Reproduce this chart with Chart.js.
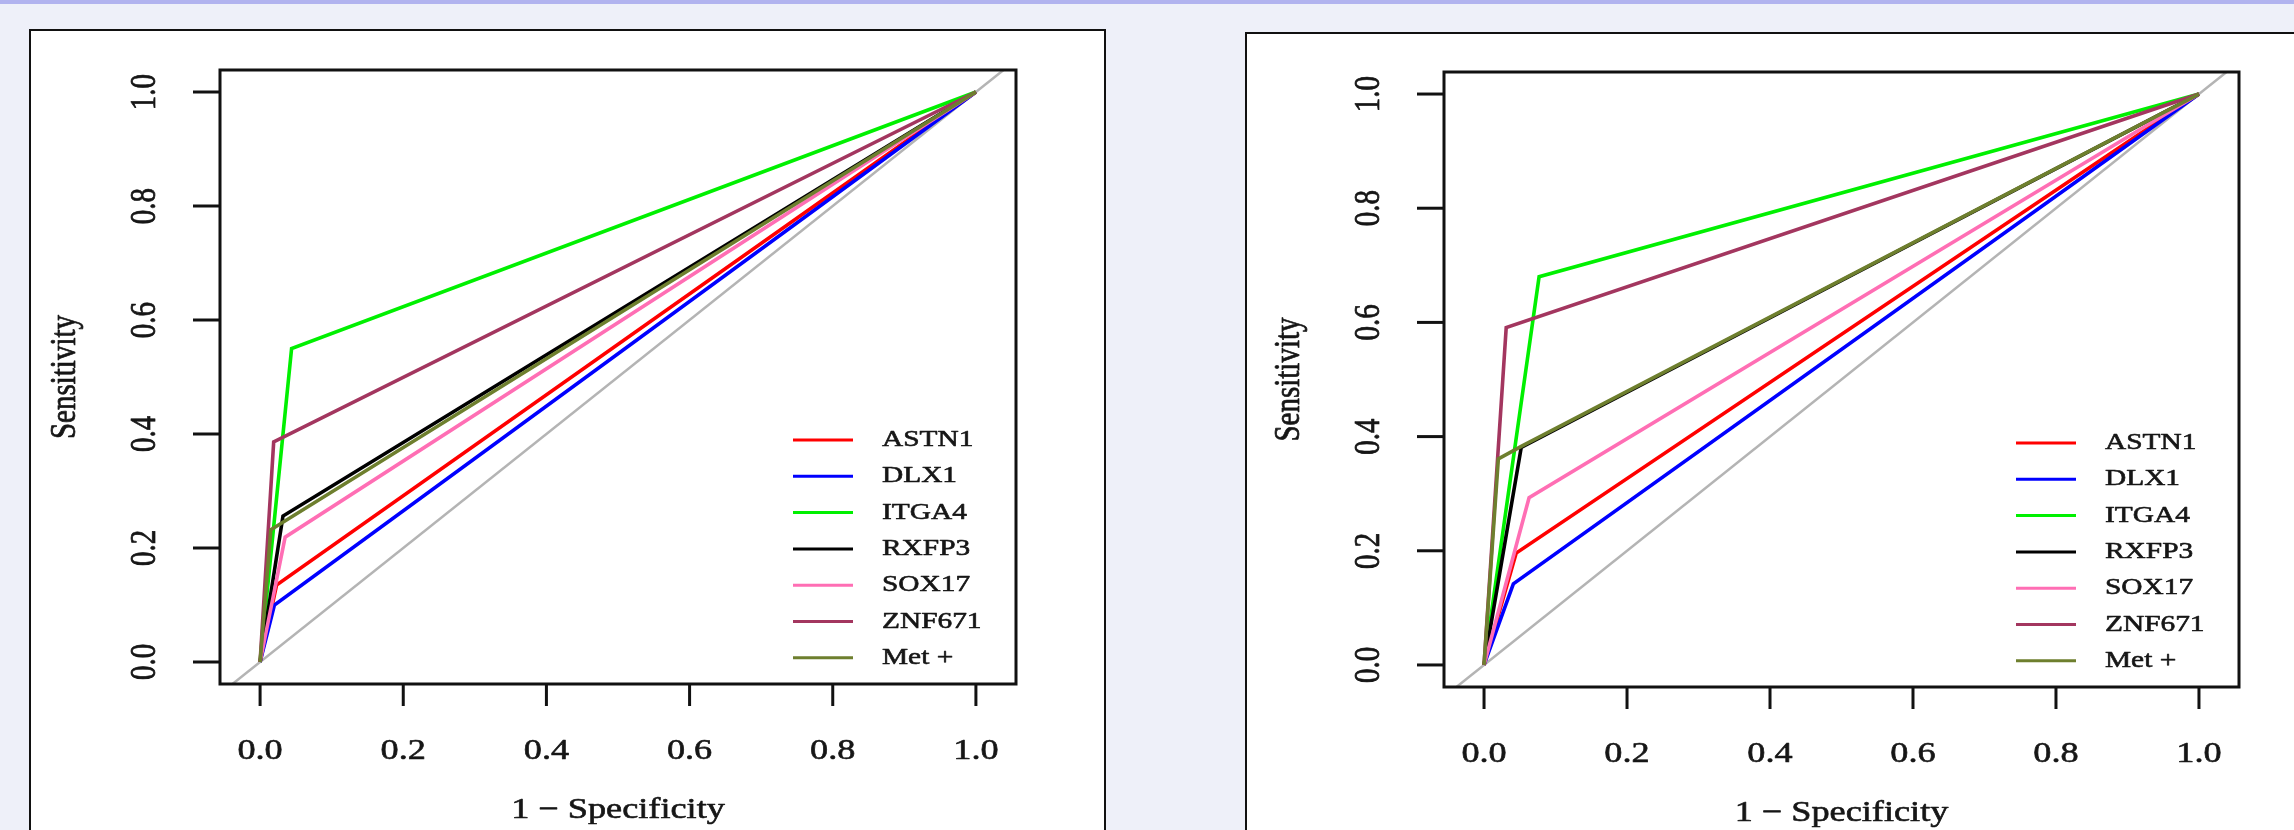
<!DOCTYPE html>
<html>
<head>
<meta charset="utf-8">
<script src="https://cdn.jsdelivr.net/npm/chart.js@4.4.1/dist/chart.umd.min.js"></script>
<style>
  html, body { margin: 0; padding: 0; }
  body { width: 2294px; height: 830px; background: #eef0f9; position: relative; overflow: hidden; font-family: "Liberation Serif", serif; }
  .band { position: absolute; left: 0; top: 0; width: 2294px; height: 4px; background: #b1b3ef; }
  .panel { position: absolute; background: #fff; border: 2px solid #111; box-sizing: border-box; }
  canvas { position: absolute; }
</style>
</head>
<body>
<div class="band"></div>
<div class="panel" style="left:29px; top:29px; width:1077px; height:820px;"></div>
<div class="panel" style="left:1245px; top:32px; width:1070px; height:820px;"></div>
<canvas id="c1" width="1072" height="799" style="left:31px; top:31px;"></canvas>
<canvas id="c2" width="1047" height="796" style="left:1247px; top:34px;"></canvas>
<script>
// ---- data ----
const markers = ["ASTN1", "DLX1", "ITGA4", "RXFP3", "SOX17", "ZNF671", "Met +"];
const markerColors = ["#ff0000", "#0000ff", "#00f000", "#000000", "#ff6eb4", "#a3365f", "#6e7f2e"];

// left panel: 1 - specificity (x) and sensitivity (y) for each marker curve
const leftFPR = [
  [0, 0.023, 1],
  [0, 0.020, 1],
  [0, 0.044, 1],
  [0, 0.032, 1],
  [0, 0.035, 1],
  [0, 0.019, 1],
  [0, 0.015, 1]
];
const leftTPR = [
  [0, 0.135, 1],
  [0, 0.100, 1],
  [0, 0.550, 1],
  [0, 0.256, 1],
  [0, 0.219, 1],
  [0, 0.386, 1],
  [0, 0.232, 1]
];
// right panel
const rightFPR = [
  [0, 0.045, 1],
  [0, 0.041, 1],
  [0, 0.077, 1],
  [0, 0.052, 1],
  [0, 0.063, 1],
  [0, 0.031, 1],
  [0, 0.020, 0.052, 1]
];
const rightTPR = [
  [0, 0.196, 1],
  [0, 0.142, 1],
  [0, 0.680, 1],
  [0, 0.381, 1],
  [0, 0.293, 1],
  [0, 0.591, 1],
  [0, 0.361, 0.383, 1]
];
const chanceLine = [-0.06, 1.06];
const xTickValues = [0, 0.2, 0.4, 0.6, 0.8, 1.0];
const xTickLabels = ["0.0", "0.2", "0.4", "0.6", "0.8", "1.0"];
const yTickValues = [0, 0.2, 0.4, 0.6, 0.8, 1.0];
const yTickLabels = ["0.0", "0.2", "0.4", "0.6", "0.8", "1.0"];
const xTitle = "1 \u2212 Specificity";
const yTitle = "Sensitivity";

// ---- drawing helpers ----
const STRETCH = 1.25;
const FONT = '"Liberation Serif", "Times New Roman", serif';
function stretchedText(ctx, text, cx, cy, rot, size, align) {
  ctx.save();
  ctx.translate(cx, cy);
  ctx.scale(STRETCH, 1);
  ctx.rotate(rot);
  ctx.font = size + 'px ' + FONT;
  ctx.fillStyle = '#161616';
  ctx.strokeStyle = '#161616';
  ctx.lineWidth = 0.6;
  ctx.lineJoin = 'round';
  ctx.textAlign = align || 'center';
  ctx.textBaseline = 'middle';
  ctx.fillText(text, 0, 0);
  ctx.strokeText(text, 0, 0);
  ctx.restore();
}

const rStyle = {
  id: 'rStyle',
  afterDraw(chart) {
    const { ctx, chartArea: a, scales } = chart;
    const x = scales.x, y = scales.y;
    ctx.save();
    ctx.strokeStyle = '#111';
    ctx.lineWidth = 3;
    ctx.strokeRect(a.left, a.top, a.right - a.left, a.bottom - a.top);
    xTickValues.forEach((v, i) => {
      const px = x.getPixelForValue(v);
      ctx.strokeStyle = '#111'; ctx.lineWidth = 3;
      ctx.beginPath(); ctx.moveTo(px, a.bottom); ctx.lineTo(px, a.bottom + 22); ctx.stroke();
      stretchedText(ctx, xTickLabels[i], px, a.bottom + 67, 0, 29);
    });
    yTickValues.forEach((v, i) => {
      const py = y.getPixelForValue(v);
      ctx.strokeStyle = '#111'; ctx.lineWidth = 3;
      ctx.beginPath(); ctx.moveTo(a.left, py); ctx.lineTo(a.left - 27, py); ctx.stroke();
      stretchedText(ctx, yTickLabels[i], a.left - 75, py, -Math.PI / 2, 29);
    });
    stretchedText(ctx, xTitle, (a.left + a.right) / 2, a.bottom + 126, 0, 29);
    stretchedText(ctx, yTitle, a.left - 155, (a.top + a.bottom) / 2, -Math.PI / 2, 29);
    // legend
    const ds = chart.data.datasets.filter(d => d.inLegend);
    ds.forEach((d, i) => {
      const ly = a.bottom - 244 + i * 36.3;
      ctx.strokeStyle = d.borderColor;
      ctx.lineWidth = 3;
      ctx.beginPath(); ctx.moveTo(a.right - 223, ly); ctx.lineTo(a.right - 163, ly); ctx.stroke();
      stretchedText(ctx, d.label, a.right - 134, ly, 0, 23.5, 'left');
    });
    ctx.restore();
  }
};

function makeChart(id, fpr, tpr, pad) {
  const datasets = markers.map((m, i) => ({
    label: m,
    inLegend: true,
    data: fpr[i].map((fx, j) => ({ x: fx, y: tpr[i][j] })),
    borderColor: markerColors[i],
    borderWidth: 3.6,
    showLine: true,
    pointRadius: 0,
    tension: 0,
    order: markers.length - i
  }));
  datasets.push({
    label: 'chance',
    inLegend: false,
    data: chanceLine.map(v => ({ x: v, y: v })),
    borderColor: '#b4b4b4',
    borderWidth: 2.5,
    showLine: true,
    pointRadius: 0,
    order: 100
  });
  return new Chart(document.getElementById(id), {
    type: 'scatter',
    data: { datasets },
    options: {
      responsive: false,
      animation: false,
      devicePixelRatio: 1,
      layout: { padding: pad },
      plugins: { legend: { display: false }, tooltip: { enabled: false } },
      scales: {
        x: { type: 'linear', min: -0.056, max: 1.056, display: false },
        y: { type: 'linear', min: -0.0386, max: 1.0386, display: false }
      }
    },
    plugins: [rStyle]
  });
}

makeChart('c1', leftFPR, leftTPR, { left: 189, top: 39, right: 87, bottom: 146 });
makeChart('c2', rightFPR, rightTPR, { left: 197, top: 38, right: 55, bottom: 143 });
</script>
</body>
</html>
